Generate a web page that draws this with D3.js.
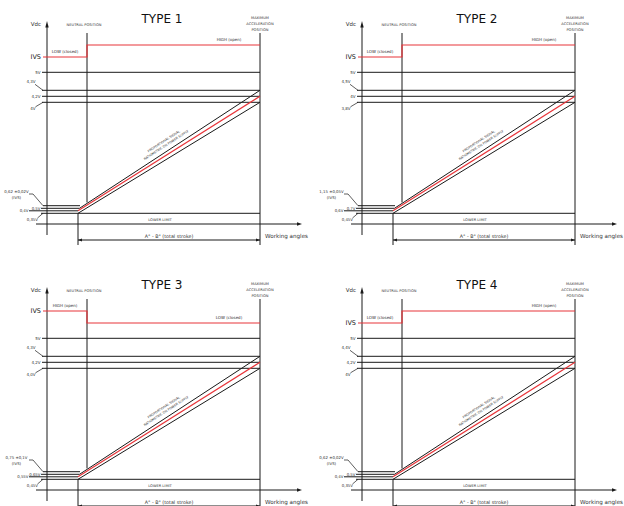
<!DOCTYPE html>
<html>
<head>
<meta charset="utf-8">
<script src="https://cdn.jsdelivr.net/npm/d3@7"></script>
<style>
  body { margin: 0; background: #fff; }
  svg { display: block; font-family: "DejaVu Sans", Verdana, sans-serif; }
</style>
</head>
<body>
<svg id="chart" width="624" height="506"></svg>
<script>
// chart data
const types = ["TYPE 1", "TYPE 2", "TYPE 3", "TYPE 4"];
const startState = ["LOW", "LOW", "HIGH", "LOW"];
const endState = ["HIGH", "HIGH", "LOW", "HIGH"];
const stateLabels = { HIGH: "HIGH (open)", LOW: "LOW (closed)" };
const supplyVolt = 5;
const supplyLabel = "5V";
const highVolts = [[4.3, 4.2, 4.0], [4.5, 4.0, 3.8], [4.3, 4.2, 4.0], [4.4, 4.2, 4.0]];
const highLabels = [["4,3V", "4,2V", "4V"], ["4,5V", "4V", "3,8V"], ["4,3V", "4,2V", "4,0V"], ["4,4V", "4,2V", "4V"]];
const lowVolts = [[0.62, 0.5, 0.4, 0.35], [1.15, 0.7, 0.6, 0.45], [0.75, 0.65, 0.55, 0.45], [0.62, 0.5, 0.4, 0.35]];
const lowLabels = [["0,62 ±0,02V", "0,5V", "0,4V", "0,35V"], ["1,15 ±0,05V", "0,7V", "0,6V", "0,45V"],
                   ["0,75 ±0,1V", "0,65V", "0,55V", "0,45V"], ["0,62 ±0,02V", "0,5V", "0,4V", "0,35V"]];
const strokeDomain = [0, 100]; // % of total stroke A° - B°
const rampText = ["PROPORTIONAL SIGNAL", "RATIOMETRIC ON POWER SUPPLY"];

// layout (schematic drawing, not to scale)
const panelDX = 315, panelDY = 266;
const slotY = [213.3, 210.8, 208.3, 205.7, 102.3, 96.3, 90.3, 72.3];
const red = "#e8353a", ink = "#1a1a1a", txt = "#333";

const svg = d3.select("#chart");
svg.append("rect").attr("width", 624).attr("height", 506).attr("fill", "#fff");

function line(g, x1, y1, x2, y2, color, w) {
  g.append("line").attr("x1", x1).attr("y1", y1).attr("x2", x2).attr("y2", y2)
    .attr("stroke", color || ink).attr("stroke-width", w || 1);
}
function label(g, x, y, s, size, anchor, color) {
  return g.append("text").attr("x", x).attr("y", y).attr("font-size", size)
    .attr("text-anchor", anchor || "start").attr("fill", color || txt).text(s);
}

function drawPanel(i) {
  const ox = (i % 2) * panelDX, oy = Math.floor(i / 2) * panelDY;
  const g = svg.append("g").attr("transform", "translate(" + ox + "," + oy + ")");
  const hi = highVolts[i], lo = lowVolts[i];

  const x = d3.scaleLinear().domain(strokeDomain).range([78, 260]);
  const y = d3.scaleLinear()
    .domain([lo[3], lo[2], lo[1], lo[0], hi[2], hi[1], hi[0], supplyVolt])
    .range(slotY);
  const ys = d3.scalePoint().domain(["HIGH", "LOW"]).range([45, 57]);

  // title
  label(g, 162, 23, types[i], 13, "middle", "#111")
    .attr("textLength", 41).attr("lengthAdjust", "spacingAndGlyphs");

  // y axis
  line(g, 47, 235, 47, 25);
  g.append("path").attr("d", "M45.3,27.5L48.7,27.5L47,21z").attr("fill", ink);
  label(g, 41, 26, "Vdc", 5.5, "end");

  // x axis
  line(g, 36, 224, 298, 224);
  g.append("path").attr("d", "M297,222.3L297,225.7L302,224z").attr("fill", ink);
  label(g, 265, 237.5, "Working angles", 5.6, "start");

  // neutral and max acceleration positions
  const up = t => y(lo[1]) + (y(hi[0]) - y(lo[1])) * t;
  const tN = x.invert(87) / 100;
  line(g, 87, 33, 87, up(tN));
  label(g, 84, 25.5, "NEUTRAL POSITION", 3.6, "middle");
  line(g, x(100), 33, x(100), 245);
  ["MAXIMUM", "ACCELERATION", "POSITION"].forEach((s, k) =>
    label(g, x(100), 18.5 + k * 6, s, 3.6, "middle"));

  // switch signal
  g.append("path")
    .attr("d", "M43," + ys(startState[i]) + "H87V" + ys(endState[i]) + "H" + x(100))
    .attr("fill", "none").attr("stroke", red).attr("stroke-width", 1.2);
  label(g, 65, ys(startState[i]) - 3.8, stateLabels[startState[i]], 4, "middle");
  label(g, 229, ys(endState[i]) - 3.8, stateLabels[endState[i]], 4, "middle");
  label(g, 41, ys(startState[i]) + 2.4, "IVS", 6.5, "end", "#222");

  // supply and high levels
  line(g, 42, y(supplyVolt), x(100), y(supplyVolt));
  label(g, 40.5, y(supplyVolt) + 1.4, supplyLabel, 4, "end");
  hi.forEach(v => line(g, 42, y(v), x(100), y(v)));
  label(g, 35.5, y(hi[0]) - 7, highLabels[i][0], 4, "end");
  line(g, 35, y(hi[0]) - 6, 43, y(hi[0]), ink, 0.7);
  label(g, 40.5, y(hi[1]) + 1.4, highLabels[i][1], 4, "end");
  label(g, 35.5, y(hi[2]) + 7.5, highLabels[i][2], 4, "end");
  line(g, 35.5, y(hi[2]) + 4.5, 43, y(hi[2]), ink, 0.7);

  // low levels
  line(g, 43, y(lo[0]), x(0) + 2, y(lo[0]));
  line(g, 41, y(lo[1]), x(0) + 1.5, y(lo[1]));
  line(g, 29, y(lo[2]), x(0), y(lo[2]));
  line(g, 41, y(lo[3]), x(100), y(lo[3]));
  label(g, 16.5, 192.5, lowLabels[i][0], 3.9, "middle");
  label(g, 16.5, 198.5, "(IVS)", 3.9, "middle");
  g.append("path").attr("d", "M29,194H33L43," + y(lo[0]))
    .attr("fill", "none").attr("stroke", ink).attr("stroke-width", 0.7);
  label(g, 40.5, y(lo[1]) + 1.3, lowLabels[i][1], 3.9, "end");
  label(g, 28.5, y(lo[2]) + 1.3, lowLabels[i][2], 3.9, "end");
  label(g, 38, 221, lowLabels[i][3], 3.9, "end");
  line(g, 37.5, 218, 43, y(lo[3]), ink, 0.7);
  label(g, 160, 220.5, "LOWER LIMIT", 3.6, "middle");

  // proportional ramp (upper tolerance, nominal, lower tolerance)
  line(g, x(0) + 1.5, y(lo[1]), x(100), y(hi[0]));
  line(g, x(0), y(lo[3]), x(100), y(hi[2]));
  line(g, x(0), y(lo[2]), x(100), y(hi[1]), red, 1.2);

  const ang = Math.atan2(y(hi[0]) - y(lo[1]), x(100) - x(0));
  const px = x(50), py = up(0.5);
  rampText.forEach((s, k) => {
    const off = k === 0 ? 8.5 : 4;
    const tx = px + Math.sin(ang) * off, ty = py - Math.cos(ang) * off;
    label(g, 0, 0, s, 3.2, "middle")
      .attr("transform", "translate(" + tx + "," + ty + ") rotate(" + (ang * 180 / Math.PI) + ")");
  });

  // total stroke dimension
  line(g, x(0), y(lo[3]), x(0), 245);
  line(g, x(0), 240, x(100), 240);
  g.append("path").attr("d", "M" + x(0) + ",240l4,-1.5v3z").attr("fill", ink);
  g.append("path").attr("d", "M" + x(100) + ",240l-4,-1.5v3z").attr("fill", ink);
  label(g, x(50), 237.5, "A° - B° (total stroke)", 4.8, "middle");
}

types.forEach((t, i) => drawPanel(i));
</script>
</body>
</html>
